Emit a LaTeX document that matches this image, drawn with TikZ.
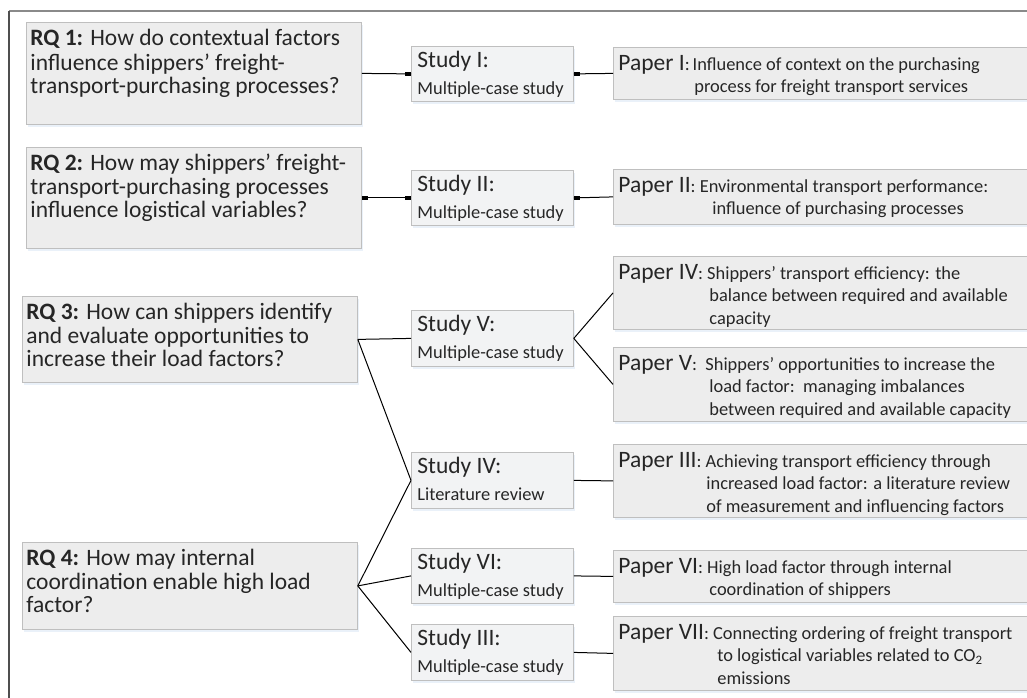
\documentclass[tikz,border=0pt]{standalone}
\usepackage{fontspec}
\setmainfont{Carlito}
\usetikzlibrary{shadows}

\definecolor{rqfill}{HTML}{EDEDED}
\definecolor{stfill}{HTML}{F2F3F4}
\definecolor{bxline}{HTML}{BFBFBF}
\definecolor{shade}{HTML}{D6E4F4}
\definecolor{txt}{HTML}{262626}
\definecolor{framecol}{HTML}{8A8A8A}
\definecolor{frameleft}{HTML}{4F4F4F}

% font sizes (1pt = 1 unit of the drawing)
\newcommand{\rqfont}{\fontsize{23.5}{23.5}\selectfont}
\newcommand{\subfont}{\fontsize{18.4}{22.5}\selectfont}
\newcommand{\bigfont}{\fontsize{23.5}{23.5}\selectfont}
\newcommand{\lab}[1]{{\bigfont #1}}
% fixed-size text block inside a box
\newcommand{\blk}[3]{\parbox[t][#1][t]{#2}{\raggedright #3}}

\tikzset{
  box/.style={draw=bxline, line width=0.8pt, anchor=north west, text=txt,
    drop shadow={shadow xshift=1.5pt, shadow yshift=-2.5pt, fill=shade, draw=none}},
  rqbox/.style={box, fill=rqfill, inner xsep=4pt, inner ysep=7pt, font=\rqfont},
  stbox/.style={box, fill=stfill, inner xsep=6pt, inner ysep=5pt, font=\subfont},
  pbox/.style={box, fill=rqfill, inner xsep=5pt, inner ysep=5pt, font=\subfont},
  link/.style={draw=black, line width=1pt},
  endmark/.style={draw=black, line width=3.5pt}
}

\begin{document}
\begin{tikzpicture}[x=1pt, y=-1pt]
\useasboundingbox (0,0) rectangle (1027,698);
\fill[white] (0,0) rectangle (1027,698);

% outer frame
\draw[framecol, line width=1.4pt] (9,11) -- (1040,11);
\draw[frameleft, line width=1.4pt] (9,11) -- (9,710);

% research questions
\node[rqbox] (rq1) at (26,22) {\blk{88pt}{327pt}{\strut\textbf{RQ 1:} How do contextual factors\\influence shippers’ freight-\\transport-purchasing processes?}};
\node[rqbox] (rq2) at (26,147) {\blk{87pt}{327pt}{\strut\textbf{RQ 2:} How may shippers’ freight-\\transport-purchasing processes\\influence logistical variables?}};
\node[rqbox] (rq3) at (22,296) {\blk{72pt}{327pt}{\strut\textbf{RQ 3:} How can shippers identify\\and evaluate opportunities to\\increase their load factors?}};
\node[rqbox] (rq4) at (22,542) {\blk{73pt}{327pt}{\strut\textbf{RQ 4:} How may internal\\coordination enable high load\\factor?}};

% studies
\node[stbox] (s1) at (411,46) {\blk{45pt}{150pt}{\rule{0pt}{16pt}\lab{Study I:}\\[4.5pt]Multiple-case study}};
\node[stbox] (s2) at (411,170) {\blk{45pt}{150pt}{\rule{0pt}{16pt}\lab{Study II:}\\[4.5pt]Multiple-case study}};
\node[stbox] (s5) at (411,310) {\blk{46pt}{150pt}{\rule{0pt}{16pt}\lab{Study V:}\\[4.5pt]Multiple-case study}};
\node[stbox] (s4) at (411,452) {\blk{46pt}{150pt}{\rule{0pt}{16pt}\lab{Study IV:}\\[4.5pt]Literature review}};
\node[stbox] (s6) at (411,548) {\blk{45pt}{150pt}{\rule{0pt}{16pt}\lab{Study VI:}\\[4.5pt]Multiple-case study}};
\node[stbox] (s3) at (411,624) {\blk{46pt}{150pt}{\rule{0pt}{16pt}\lab{Study III:}\\[4.5pt]Multiple-case study}};

% papers
\node[pbox] (p1) at (613,47) {\blk{42pt}{410pt}{\rule{0pt}{18pt}\lab{Paper I}:\hspace{3pt}Influence of context on the purchasing\\\hspace*{76pt}process for freight transport services}};
\node[pbox] (p2) at (613,169) {\blk{45pt}{410pt}{\rule{0pt}{18pt}\lab{Paper II}: Environmental transport performance:\\\hspace*{94pt}influence of purchasing processes}};
\node[pbox] (p4) at (613,256) {\blk{63pt}{410pt}{\rule{0pt}{18pt}\lab{Paper IV}: Shippers’ transport efficiency: the\\\hspace*{91pt}balance between required and available\\\hspace*{91pt}capacity}};
\node[pbox] (p5) at (613,347) {\blk{64pt}{410pt}{\rule{0pt}{18pt}\lab{Paper V}:\ \ Shippers’ opportunities to increase the\\\hspace*{91pt}load factor:\ \ managing imbalances\\\hspace*{91pt}between required and available capacity}};
\node[pbox] (p3) at (613,444) {\blk{63pt}{410pt}{\rule{0pt}{18pt}\lab{Paper III}: Achieving transport efficiency through\\\hspace*{88pt}increased load factor: a literature review\\\hspace*{88pt}of measurement and influencing factors}};
\node[pbox] (p6) at (613,550) {\blk{42pt}{410pt}{\rule{0pt}{18pt}\lab{Paper VI}: High load factor through internal\\\hspace*{91pt}coordination of shippers}};
\node[pbox] (p7) at (613,616) {\blk{64pt}{410pt}{\rule{0pt}{18pt}\lab{Paper VII}: Connecting ordering of freight transport\\\hspace*{99pt}to logistical variables related to CO\textsubscript{2}\\\hspace*{99pt}emissions}};

% connectors
\draw[link] (rq1.east) -- (s1.west);
\draw[link] (s1.east) -- (p1.west);
\draw[link] (rq2.east) -- (s2.west);
\draw[link] (s2.east) -- (p2.west);
\draw[link] (rq3.east) -- (s5.west);
\draw[link] (rq3.east) -- (s4.west);
\draw[link] (s5.east) -- (p4.west);
\draw[link] (s5.east) -- (p5.west);
\draw[link] (rq4.east) -- (s4.west);
\draw[link] (rq4.east) -- (s6.west);
\draw[link] (rq4.east) -- (s3.west);
\draw[link] (s4.east) -- (p3.west);
\draw[link] (s6.east) -- (p6.west);
\draw[link] (s3.east) -- (p7.west);

% connection-point marks
\draw[endmark] (s1.west) -- ++(-6,0);
\draw[endmark] (s1.east) -- ++(6,0);
\draw[endmark] (rq2.east) -- ++(6,0);
\draw[endmark] (s2.west) -- ++(-6,0);
\draw[endmark] (s2.east) -- ++(6,0);
\end{tikzpicture}
\end{document}
